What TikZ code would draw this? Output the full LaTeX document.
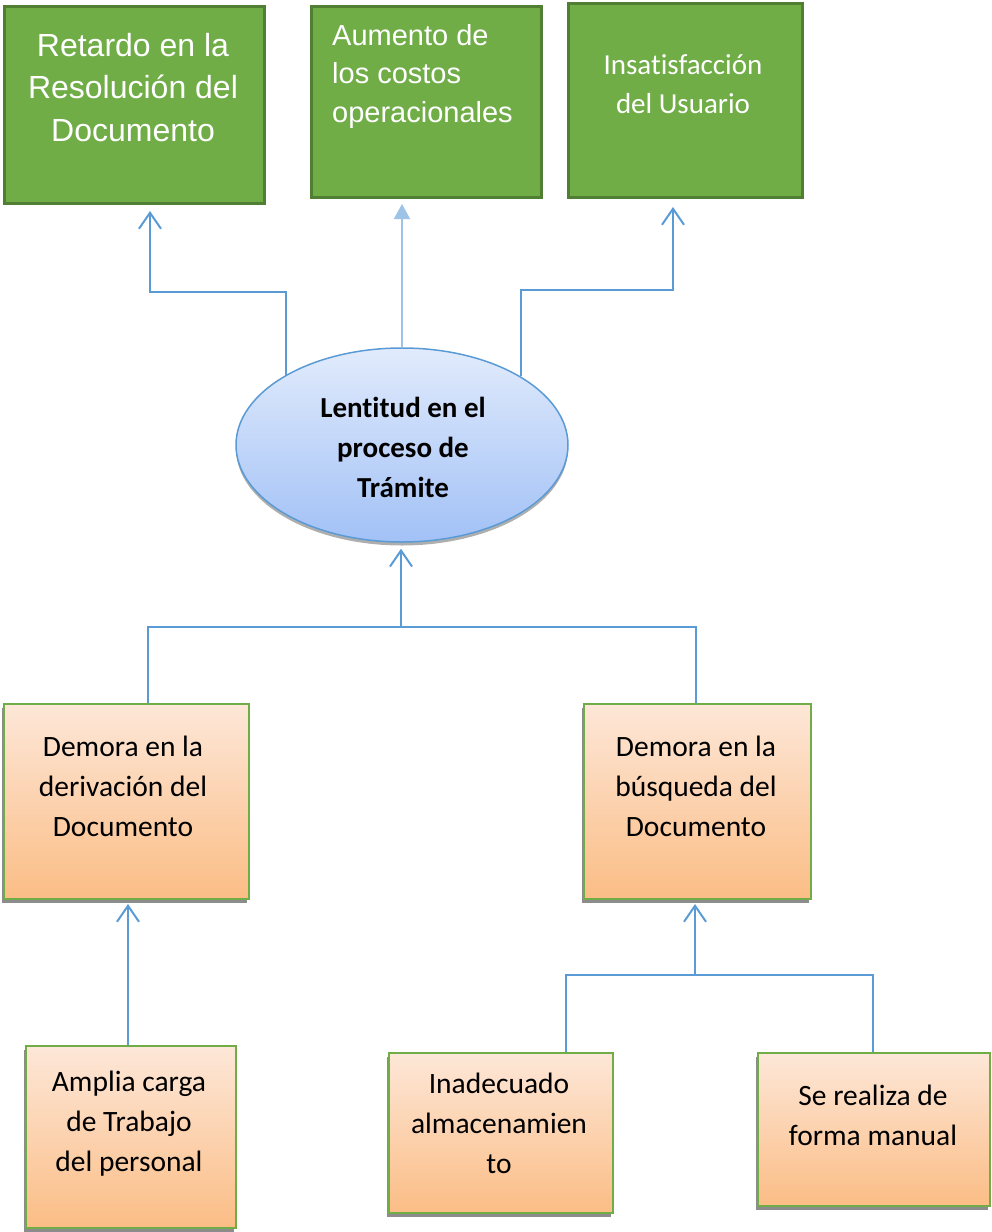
\documentclass[tikz,border=0pt]{standalone}
\usepackage{fontspec}
\setmainfont{Carlito}[Ligatures={TeX,NoCommon}]
\newfontfamily\arialfont{Liberation Sans}
\usetikzlibrary{arrows.meta,shadows,shapes.geometric}
\definecolor{effectfill}{HTML}{70AD47}
\definecolor{effectline}{HTML}{507E32}
\definecolor{causeline}{HTML}{70AD47}
\definecolor{causetop}{HTML}{FDE7D8}
\definecolor{causebot}{HTML}{FBBD85}
\definecolor{linkblue}{HTML}{5B9BD5}
\definecolor{lightlink}{HTML}{9DC3E6}
\definecolor{elltop}{HTML}{E1EBFC}
\definecolor{ellbot}{HTML}{A2C1F6}
\begin{document}
\begin{tikzpicture}[x=1pt,y=-1pt,
  effect/.style={draw=effectline, fill=effectfill, line width=3pt,
    anchor=north west, inner sep=0},
  cause/.style={draw=causeline, line width=2pt, top color=causetop,
    bottom color=causebot, anchor=north west, inner sep=0,
    drop shadow={shadow xshift=-2pt, shadow yshift=-4pt, fill=black!45, opacity=1}},
  problem/.style={ellipse, draw=linkblue, line width=1.5pt, top color=elltop,
    bottom color=ellbot, inner sep=0,
    drop shadow={shadow xshift=0pt, shadow yshift=-3.5pt, fill=black!45, opacity=0.7}},
  whitetext/.style={text=white, inner sep=0},
  darktext/.style={text=black, inner sep=0, align=center, anchor=north,
    font={\fontsize{29.5}{40}\selectfont}},
  link/.style={draw=linkblue, line width=2pt},
  openhead/.style={-{Straight Barb[length=16pt,width=22pt,line width=2pt]}},
]
\useasboundingbox (0,0) rectangle (991,1232);

% effects
\node[effect, minimum width=260, minimum height=197] (e1) at (3,5) {};
\node[effect, minimum width=230, minimum height=191] (e2) at (310,5) {};
\node[effect, minimum width=234, minimum height=194] (e3) at (567,2) {};
\node[whitetext, anchor=north, align=center,
  font={\arialfont\fontsize{32}{42.5}\selectfont}] (t1) at (133,33)
  {Retardo en la\\Resolución del\\Documento};
\node[whitetext, anchor=north west, align=left,
  font={\arialfont\fontsize{29}{38.5}\selectfont}] (t2) at (332,24)
  {Aumento de\\los costos\\operacionales};
\node[whitetext, anchor=north, align=center,
  font={\fontsize{29}{39}\selectfont}] (t3) at (683,54)
  {Insatisfacción\\del Usuario};

% central problem
\node[problem, minimum width=332, minimum height=194] (ell) at (402,445) {};
\node[darktext, font={\bfseries\fontsize{29}{40}\selectfont}] (t4) at (403,397)
  {Lentitud en el\\proceso de\\Trámite};

% causes
\node[cause, minimum width=245, minimum height=195] (c1) at (3,703) {};
\node[cause, minimum width=227, minimum height=195] (c2) at (583,703) {};
\node[cause, minimum width=210, minimum height=182] (c3) at (25,1045) {};
\node[cause, minimum width=224, minimum height=160] (c4) at (388,1052) {};
\node[cause, minimum width=232, minimum height=153] (c5) at (757,1052) {};
\node[darktext] (t5) at (123,735.5) {Demora en la\\derivación del\\Documento};
\node[darktext] (t6) at (696,735.5) {Demora en la\\búsqueda del\\Documento};
\node[darktext] (t7) at (129,1070.5) {Amplia carga\\de Trabajo\\del personal};
\node[darktext] (t8) at (499,1072.5) {Inadecuado\\almacenamien\\to};
\node[darktext] (t9) at (873,1084.5) {Se realiza de\\forma manual};

% bend points
\coordinate (k1) at (150,292);
\coordinate (k3) at (673,290);
\coordinate (j) at (401,627);
\coordinate (jl) at (148,627);
\coordinate (jr) at (696,627);
\coordinate (m) at (128,1000);
\coordinate (n) at (695,975);
\coordinate (nl) at (566,975);
\coordinate (nr) at (873,975);

% problem to effects
\draw[link, openhead, shorten >=6pt] (ell.149.5) |- (k1) -- (k1 |- e1.south);
\draw[draw=lightlink, line width=2pt, -{Triangle[length=15pt,width=16pt]},
  shorten >=5pt] (ell.north) -- (ell.north |- e2.south);
\draw[link, openhead, shorten >=8pt] (ell.30.5) |- (k3) -- (k3 |- e3.south);

% causes to problem
\draw[link] (jl |- c1.north) -- (jl) -- (jr) -- (jr |- c2.north);
\draw[link, openhead, shorten >=6pt] (j) -- (j |- ell.south);
\draw[link, openhead, shorten >=4pt] (m |- c3.north) -- (m |- c1.south);
\draw[link] (nl |- c4.north) -- (nl) -- (nr) -- (nr |- c5.north);
\draw[link, openhead, shorten >=4pt] (n) -- (n |- c2.south);
\end{tikzpicture}
\end{document}
